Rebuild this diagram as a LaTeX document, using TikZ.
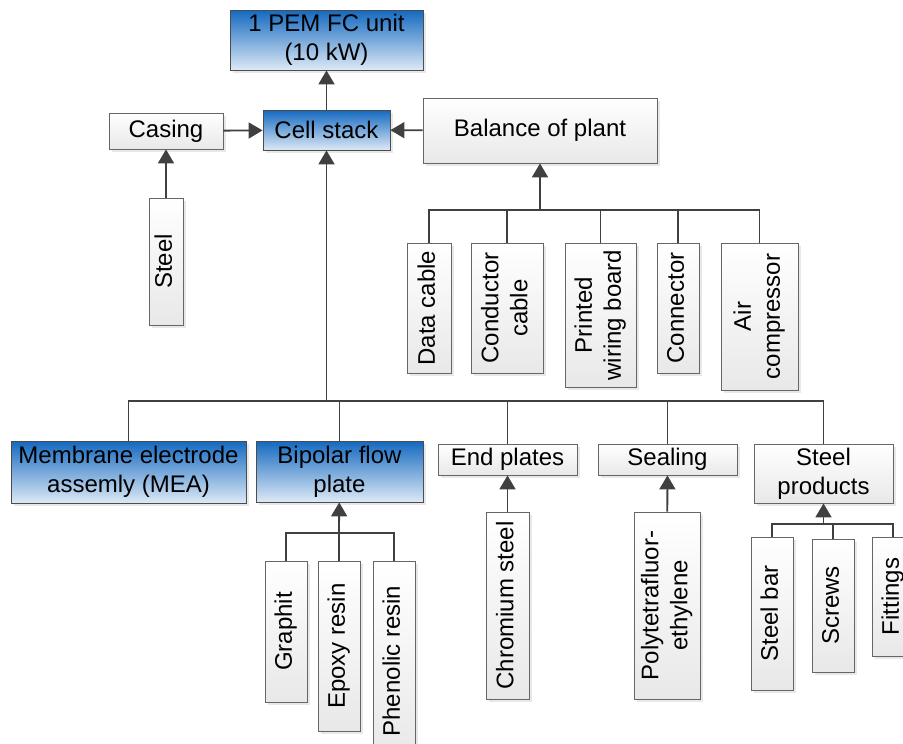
\documentclass[tikz,border=0pt]{standalone}
\usepackage{fontspec}
\setmainfont{Liberation Sans}
\usetikzlibrary{arrows.meta,shadows}
\definecolor{boxblue}{HTML}{1469C0}
\definecolor{paleblue}{HTML}{DDE9F5}
\definecolor{linegray}{HTML}{404040}
\newcommand{\vlabel}[1]{\rotatebox{90}{\begin{tabular}{@{}c@{}}#1\end{tabular}}}

\begin{document}
\begin{tikzpicture}[
    x=1pt, y=-1pt,
    box/.style={draw=gray!80!black, line width=0.8pt, top color=white, bottom color=gray!18,
        drop shadow={shadow xshift=2.5pt, shadow yshift=-2.5pt, fill=gray!35},
        inner sep=1pt, align=center, font=\fontsize{24}{29}\selectfont},
    bluebox/.style={box, draw=gray!60!black, top color=boxblue, bottom color=paleblue},
    link/.style={draw=linegray, line width=1.8pt},
    arr/.style={link, -{Triangle[width=16pt,length=14pt,fill=linegray]}},
]
    \useasboundingbox (0,0) rectangle (903,744);
    \clip (0,0) rectangle (903,744);

    % top part
    \node[bluebox, minimum width=193, minimum height=60] (pem) at (326.5,40) {1 PEM FC unit\\(10 kW)};
    \node[bluebox, minimum width=127, minimum height=40] (stack) at (326.5,130) {Cell stack};
    \node[box, minimum width=114, minimum height=36] (casing) at (166,131) {Casing};
    \node[box, minimum width=34, minimum height=127] (steel) at (166,261.5) {\vlabel{Steel}};
    \node[box, minimum width=234, minimum height=65] (bop) at (540,130.5) {Balance of plant};

    % balance of plant parts
    \node[box, minimum width=44, minimum height=130] (datacable) at (429,308) {\vlabel{Data cable}};
    \node[box, minimum width=72, minimum height=130] (condcable) at (507,308) {\vlabel{Conductor\\cable}};
    \node[box, minimum width=71, minimum height=144] (pwb) at (600.5,315) {\vlabel{Printed\\wiring board}};
    \node[box, minimum width=42, minimum height=130] (connector) at (678,308) {\vlabel{Connector}};
    \node[box, minimum width=77, minimum height=147] (aircomp) at (759.5,316.5) {\vlabel{Air\\compressor}};

    % cell stack parts
    \node[bluebox, minimum width=235, minimum height=62] (mea) at (128.5,472) {Membrane electrode\\assemly (MEA)};
    \node[bluebox, minimum width=167, minimum height=61] (bfp) at (339.5,471.5) {Bipolar flow\\plate};
    \node[box, minimum width=139, minimum height=31] (endpl) at (507.5,459.5) {End plates};
    \node[box, minimum width=139, minimum height=31] (sealing) at (667.5,459.5) {Sealing};
    \node[box, minimum width=139, minimum height=59] (steelprod) at (823.5,473.5) {Steel\\products};

    % materials
    \node[box, minimum width=42, minimum height=141] (graphit) at (286,631.5) {\vlabel{Graphit}};
    \node[box, minimum width=42, minimum height=170] (epoxy) at (339,646) {\vlabel{Epoxy resin}};
    \node[box, minimum width=42, minimum height=200] (phenolic) at (394,661) {\vlabel{Phenolic resin}};
    \node[box, minimum width=43, minimum height=187] (chromium) at (507.5,605.5) {\vlabel{Chromium steel}};
    \node[box, minimum width=66, minimum height=187] (ptfe) at (667,605.5) {\vlabel{Polytetrafluor-\\ethylene}};
    \node[box, minimum width=42, minimum height=153] (steelbar) at (772,613.5) {\vlabel{Steel bar}};
    \node[box, minimum width=42, minimum height=133] (screws) at (833,605.5) {\vlabel{Screws}};
    \node[box, minimum width=42, minimum height=119] (fittings) at (893,596.5) {\vlabel{Fittings}};

    % bus points
    \coordinate (mainbus) at (326.5,401);
    \coordinate (bopbus) at (540,210);
    \coordinate (bfpbus) at (339,533);
    \coordinate (spbus) at (823.5,524);

    % arrows
    \draw[arr] (stack) -- (pem);
    \draw[arr] (casing) -- (stack);
    \draw[arr] (bop) -- (stack);
    \draw[arr] (steel) -- (casing);
    \draw[arr] (mainbus) -- (stack);
    \draw[arr] (bopbus) -- (bop);
    \draw[arr] (bfpbus) -- (bfp);
    \draw[arr] (chromium) -- (endpl);
    \draw[arr] (ptfe) -- (sealing);
    \draw[arr] (spbus) -- (steelprod);

    % branch lines
    \draw[link] (datacable.north) |- (bopbus) -| (aircomp.north);
    \draw[link] (condcable.north) -- (condcable.north |- bopbus);
    \draw[link] (pwb.north) -- (pwb.north |- bopbus);
    \draw[link] (connector.north) -- (connector.north |- bopbus);

    \draw[link] (mea.north) |- (mainbus) -| (steelprod.north);
    \draw[link] (bfp.north) -- (bfp.north |- mainbus);
    \draw[link] (endpl.north) -- (endpl.north |- mainbus);
    \draw[link] (sealing.north) -- (sealing.north |- mainbus);

    \draw[link] (graphit.north) |- (bfpbus) -| (phenolic.north);
    \draw[link] (epoxy.north) -- (bfpbus);

    \draw[link] (steelbar.north) |- (spbus) -| (fittings.north);
    \draw[link] (screws.north) -- (screws.north |- spbus);
\end{tikzpicture}
\end{document}
